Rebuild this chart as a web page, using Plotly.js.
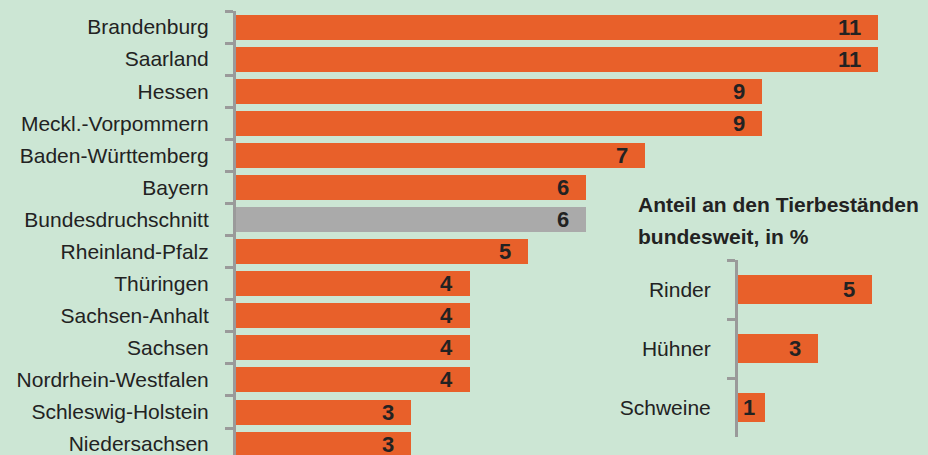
<!DOCTYPE html>
<html>
<head>
<meta charset="utf-8">
<script src="https://cdn.plot.ly/plotly-3.0.1.min.js"></script>
<style>html,body{margin:0;padding:0;background:#cce6d4;}#chart{width:928px;height:455px;}</style>
</head>
<body>
<div id="chart"></div>
<script>
// Main chart data
var states = ["Brandenburg","Saarland","Hessen","Meckl.-Vorpommern","Baden-Württemberg","Bayern","Bundesdruchschnitt","Rheinland-Pfalz","Thüringen","Sachsen-Anhalt","Sachsen","Nordrhein-Westfalen","Schleswig-Holstein","Niedersachsen"];
var stateValues = [11,11,9,9,7,6,6,5,4,4,4,4,3,3];
var averageLabel = "Bundesdruchschnitt";

// Inset data
var animals = ["Rinder","Hühner","Schweine"];
var animalValues = [5,3,1];
var insetTitle = ["Anteil an den Tierbeständen","bundesweit, in %"];

var ORANGE = "#e8602a", GREY_BAR = "#aaaaaa", AXIS = "#9a9a9a", TXT = "#222222", BG = "#cce6d4";
var labelFont = {family: "Liberation Sans, Arial, sans-serif", size: 22, color: TXT, weight: "bold"};

var barColors = states.map(function(s){ return s === averageLabel ? GREY_BAR : ORANGE; });

var traces = [
  {type: "bar", orientation: "h", x: stateValues, y: states, xaxis: "x", yaxis: "y",
   marker: {color: barColors, line: {width: 0}}, width: 0.78, hoverinfo: "none"},
  {type: "bar", orientation: "h", x: animalValues, y: animals, xaxis: "x2", yaxis: "y2",
   marker: {color: ORANGE, line: {width: 0}}, width: 0.49, hoverinfo: "none"}
];

var annotations = [];
stateValues.forEach(function(v, i){
  annotations.push({x: v, y: states[i], xref: "x", yref: "y", text: String(v), showarrow: false,
    xanchor: "right", yanchor: "middle", xshift: -15, font: labelFont});
});
var pxPerUnit2 = 26.8;
animalValues.forEach(function(v, i){
  var textW = String(v).length * 12;
  var shift = Math.min(15, (v * pxPerUnit2 - textW) / 2);
  annotations.push({x: v, y: animals[i], xref: "x2", yref: "y2", text: String(v), showarrow: false,
    xanchor: "right", yanchor: "middle", xshift: -shift, font: labelFont});
});
insetTitle.forEach(function(line, i){
  annotations.push({x: 636/928, y: 1 - (205 + i*31)/455, xref: "paper", yref: "paper", text: line,
    showarrow: false, xanchor: "left", yanchor: "middle",
    font: {family: "Liberation Sans, Arial, sans-serif", size: 21, color: TXT, weight: "bold"}});
});

var commonY = {type: "category", showline: true, linecolor: AXIS, linewidth: 3,
  ticks: "outside", tickson: "boundaries", ticklen: 8, tickwidth: 3, tickcolor: AXIS,
  tickfont: {family: "Liberation Sans, Arial, sans-serif", size: 21, color: TXT},
  showgrid: false, zeroline: false, fixedrange: true, ticklabelstandoff: 20};

var layout = {
  width: 928, height: 455,
  margin: {l: 0, r: 0, t: 0, b: 0, pad: 0},
  paper_bgcolor: BG, plot_bgcolor: "rgba(0,0,0,0)",
  showlegend: false, bargap: 0,
  xaxis: {domain: [236/928, 907.6/928], range: [0, 11.5], visible: false, fixedrange: true},
  yaxis: Object.assign({}, commonY, {domain: [0, 1 - 11/455], range: [13.34, -0.5], anchor: "x"}),
  xaxis2: {domain: [738/928, 912/928], range: [0, 6.5], visible: false, anchor: "y2", fixedrange: true},
  yaxis2: Object.assign({}, commonY, {domain: [1 - 437/455, 1 - 260/455], range: [2.5, -0.5], anchor: "x2"}),
  annotations: annotations
};

Plotly.newPlot("chart", traces, layout, {staticPlot: true, displayModeBar: false});
</script>
</body>
</html>
